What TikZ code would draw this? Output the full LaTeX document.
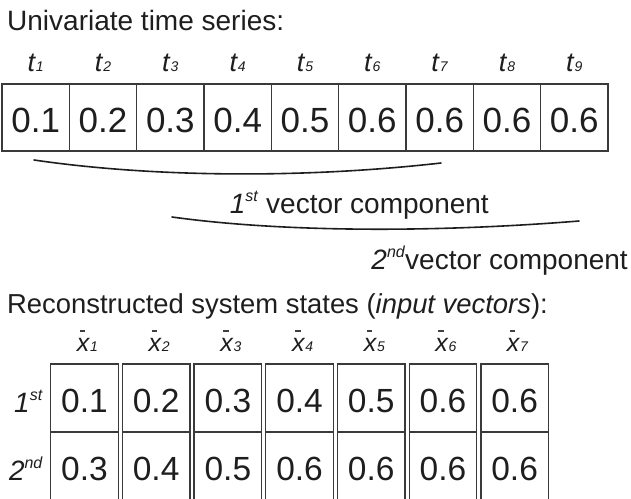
\documentclass[tikz,border=0pt]{standalone}
\usepackage{fontspec}
\setmainfont{Liberation Sans}
\definecolor{linegray}{HTML}{3A3A3A}
\definecolor{ink}{HTML}{1E1E1E}
\newcommand{\fsz}[1]{\fontsize{#1}{#1}\selectfont}
\newcommand{\supx}[1]{\raisebox{0.42em}{\fsz{16}\textit{#1}}}
\newcommand{\tlab}[1]{\textit{t}{\fsz{14}\textit{#1}}}
\newcommand{\xlab}[1]{\rlap{\hspace{0.12em}\raisebox{0.78em}{\color{darkgray}\rule{0.22em}{0.06em}}}\textit{x}{\fsz{14}\textit{#1}}}
\tikzset{
  topcell/.style={draw=linegray, line width=1.3pt, minimum width=67.33pt, minimum height=67pt,
    inner sep=0pt, text height=29pt, text depth=0pt, font=\fsz{35}, text=ink},
  botcell/.style={draw=linegray, line width=1.3pt, minimum width=67.5pt, minimum height=68pt,
    inner sep=0pt, text height=28pt, text depth=0pt, font=\fsz{33.5}, text=ink},
  lab/.style={inner sep=0pt, anchor=base, text=ink},
  brace/.style={draw=ink, line width=1.6pt, line cap=round},
}
\begin{document}
\begin{tikzpicture}[x=1pt,y=-1pt]
\useasboundingbox (0,0) rectangle (631,498);
\clip (0,0) rectangle (631,498);
\fill[white] (0,0) rectangle (631,498);

% title
\node[lab, anchor=base west, font=\fsz{28}] (title1) at (7,30) {Univariate time series:};

% top table
\foreach \v [count=\i] in {0.1,0.2,0.3,0.4,0.5,0.6,0.6,0.6,0.6} {
  \node[topcell] (c\i) at ({2+67.33*(\i-0.5)},117.5) {\v};
  \node[lab, font=\fsz{27}] (t\i) at ({2+67.33*(\i-0.5)},71) {\tlab{\i}};
}

% component curves
\coordinate (a1) at (34,160);
\coordinate (b1) at (441,163);
\coordinate (a2) at (172,217);
\coordinate (b2) at (579,221);
\draw[brace] (a1) .. controls (150,177) and (300,179) .. (b1);
\draw[brace] (a2) .. controls (280,232) and (430,233) .. (b2);

\node[lab, anchor=base east, font=\fsz{28}] (comp1) at (489,213) {\textit{1}\supx{st} vector component};
\node[lab, anchor=base east, font=\fsz{28}] (comp2) at (628,269) {\textit{2}\supx{nd}vector component};

% second title
\node[lab, anchor=base west, font=\fsz{27.4}] (title2) at (7,313) {Reconstructed system states (\textit{input vectors}):};

% bottom table
\foreach \u/\w [count=\j] in {0.1/0.3,0.2/0.4,0.3/0.5,0.4/0.6,0.5/0.6,0.6/0.6,0.6/0.6} {
  \node[botcell] (r\j) at ({84.45+71.7*(\j-1)},398) {\u};
  \node[botcell] (s\j) at ({84.45+71.7*(\j-1)},466) {\w};
  \node[lab, font=\fsz{25}] (x\j) at ({87.5+71.7*(\j-1)},351) {\xlab{\j}};
}
\node[lab, anchor=base east, font=\fsz{28}] (row1) at (43,412) {\textit{1}\supx{st}};
\node[lab, anchor=base east, font=\fsz{28}] (row2) at (43,480) {\textit{2}\supx{nd}};
\end{tikzpicture}
\end{document}
